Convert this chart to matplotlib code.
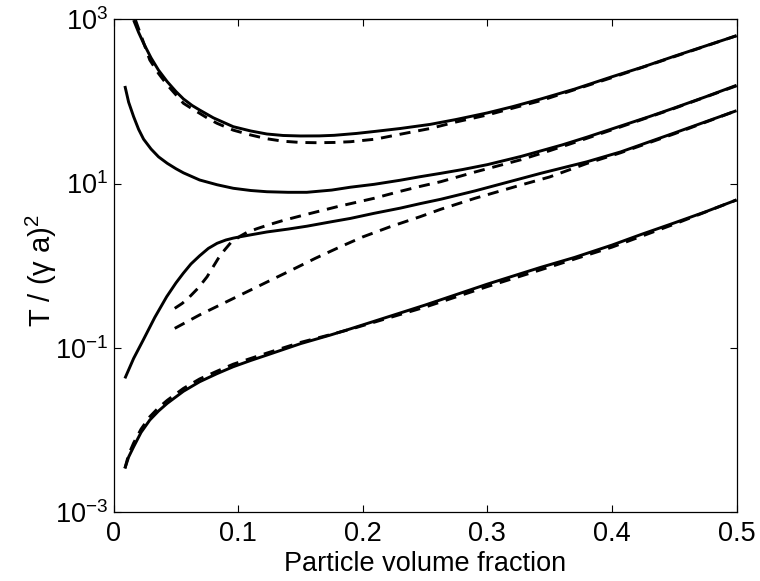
import numpy as np
import matplotlib
matplotlib.use("Agg")
import matplotlib.pyplot as plt

plt.rcParams['font.family'] = ['Liberation Sans', 'DejaVu Sans']
plt.rcParams['mathtext.fontset'] = 'custom'
plt.rcParams['mathtext.rm'] = 'Liberation Sans'
plt.rcParams['mathtext.it'] = 'Liberation Sans:italic'
plt.rcParams['mathtext.bf'] = 'Liberation Sans:bold'

# Values are given as log10(T / (gamma a)^2).
# Curve 1 (top) - solid / dashed
x1s = [0.016, 0.020, 0.024, 0.030, 0.036, 0.043, 0.050, 0.056, 0.063, 0.069, 0.080, 0.096, 0.110,
       0.123, 0.136, 0.150, 0.165, 0.177, 0.195, 0.210, 0.230, 0.254, 0.275, 0.300, 0.320, 0.343,
       0.370, 0.400, 0.425, 0.450, 0.475, 0.500]
l1s = [2.99, 2.84, 2.708, 2.53, 2.38, 2.24, 2.12, 2.03, 1.95, 1.895, 1.80, 1.692, 1.64,
       1.603, 1.585, 1.579, 1.58, 1.587, 1.61, 1.635, 1.67, 1.72, 1.78, 1.86, 1.935, 2.03,
       2.15, 2.30, 2.42, 2.55, 2.675, 2.80]
x1d = [0.0175, 0.022, 0.029, 0.036, 0.043, 0.050, 0.056, 0.063, 0.069, 0.076, 0.083, 0.096, 0.110,
       0.123, 0.136, 0.150, 0.163, 0.177, 0.190, 0.210, 0.230, 0.254, 0.275, 0.300, 0.343, 0.400,
       0.450, 0.500]
l1d = [2.99, 2.80, 2.504, 2.34, 2.20, 2.08, 1.977, 1.91, 1.855, 1.79, 1.733, 1.65, 1.591,
       1.545, 1.515, 1.50, 1.497, 1.50, 1.509, 1.54, 1.60, 1.67, 1.75, 1.835, 2.01, 2.29,
       2.545, 2.80]

# Curve 2 - solid / dashed
x2s = [0.009, 0.012, 0.016, 0.020, 0.024, 0.030, 0.036, 0.043, 0.050, 0.056, 0.069, 0.083, 0.096,
       0.110, 0.123, 0.140, 0.155, 0.175, 0.190, 0.209, 0.230, 0.246, 0.2625, 0.280, 0.300, 0.327,
       0.360, 0.380, 0.407, 0.430, 0.450, 0.475, 0.500]
l2s = [2.188, 1.99, 1.814, 1.66, 1.54, 1.42, 1.325, 1.246, 1.18, 1.13, 1.043, 0.985, 0.942,
       0.915, 0.900, 0.893, 0.893, 0.92, 0.955, 0.99, 1.04, 1.083, 1.124, 1.17, 1.23, 1.33,
       1.47, 1.565, 1.70, 1.815, 1.92, 2.055, 2.196]
x2d = [0.049, 0.055, 0.061, 0.068, 0.075, 0.080, 0.084, 0.089, 0.094, 0.1017, 0.107, 0.115, 0.125,
       0.136, 0.155, 0.180, 0.209, 0.230, 0.246, 0.2625, 0.290, 0.327, 0.350, 0.370, 0.407, 0.450,
       0.500]
l2d = [-0.52, -0.46, -0.379, -0.27, -0.135, -0.01, 0.089, 0.19, 0.28, 0.36, 0.405, 0.45, 0.50,
       0.55, 0.625, 0.72, 0.82, 0.905, 0.965, 1.022, 1.14, 1.29, 1.40, 1.50, 1.69, 1.915,
       2.19]

# Curve 3 - solid / dashed
x3s = [0.009, 0.016, 0.0237, 0.033, 0.0425, 0.050, 0.0558, 0.062, 0.069, 0.076, 0.083, 0.090, 0.096,
       0.1017, 0.110, 0.123, 0.140, 0.155, 0.175, 0.190, 0.209, 0.230, 0.246, 0.2625, 0.290, 0.327,
       0.343, 0.380, 0.407, 0.450, 0.500]
l3s = [-1.373, -1.13, -0.906, -0.63, -0.379, -0.21, -0.094, 0.02, 0.12, 0.21, 0.272, 0.312, 0.335,
       0.352, 0.375, 0.41, 0.445, 0.48, 0.535, 0.575, 0.637, 0.70, 0.755, 0.808, 0.91, 1.06,
       1.125, 1.265, 1.385, 1.615, 1.887]
x3d = [0.049, 0.069, 0.096, 0.123, 0.142, 0.162, 0.182, 0.200, 0.222, 0.246, 0.2625, 0.290, 0.327,
       0.350, 0.380, 0.407, 0.450, 0.500]
l3d = [-0.764, -0.60, -0.40, -0.20, -0.06, 0.09, 0.23, 0.35, 0.474, 0.596, 0.686, 0.82, 0.982,
       1.08, 1.245, 1.375, 1.605, 1.887]

# Curve 4 (bottom) - solid / dashed
x4s = [0.009, 0.012, 0.016, 0.022, 0.029, 0.036, 0.043, 0.056, 0.069, 0.083, 0.096, 0.110, 0.123,
       0.150, 0.174, 0.190, 0.220, 0.250, 0.300, 0.343, 0.370, 0.400, 0.4235, 0.450, 0.475, 0.500]
l4s = [-2.469, -2.33, -2.206, -2.03, -1.88, -1.77, -1.677, -1.53, -1.414, -1.315, -1.231, -1.155, -1.089,
       -0.95, -0.845, -0.77, -0.625, -0.48, -0.225, -0.02, 0.10, 0.25, 0.38, 0.52, 0.655, 0.80]
x4d = [0.009, 0.012, 0.016, 0.022, 0.029, 0.036, 0.043, 0.056, 0.069, 0.083, 0.096, 0.110, 0.123,
       0.150, 0.174, 0.190, 0.220, 0.250, 0.300, 0.343, 0.400, 0.450, 0.500]
l4d = [-2.469, -2.30, -2.16, -1.99, -1.84, -1.73, -1.64, -1.495, -1.38, -1.285, -1.20, -1.13, -1.065,
       -0.935, -0.84, -0.775, -0.64, -0.505, -0.255, -0.05, 0.225, 0.505, 0.80]

xticks = [0, 0.1, 0.2, 0.3, 0.4, 0.5]
xticklabels = ['0', '0.1', '0.2', '0.3', '0.4', '0.5']
yticks = [1e-3, 1e-1, 1e1, 1e3]

fig = plt.figure(figsize=(7.6, 5.81), dpi=100)
ax = fig.add_axes([0.1496, 0.1188, 0.8195, 0.848])

lw = 2.1
dash = (3.8, 2.7)
for xs, ls in [(x1s, l1s), (x2s, l2s), (x3s, l3s), (x4s, l4s)]:
    ax.plot(xs, 10 ** np.asarray(ls), color='black', lw=lw, solid_capstyle='butt',
            solid_joinstyle='round')
for xs, ls in [(x1d, l1d), (x2d, l2d), (x3d, l3d), (x4d, l4d)]:
    ax.plot(xs, 10 ** np.asarray(ls), color='black', lw=lw, linestyle=(0, dash),
            dash_capstyle='butt')

ax.set_yscale('log')
ax.set_xlim(0, 0.5)
ax.set_ylim(1e-3, 1e3)
ax.set_xticks(xticks)
ax.set_xticklabels(xticklabels)
ax.set_yticks(yticks)
ax.yaxis.set_minor_locator(matplotlib.ticker.NullLocator())
ax.tick_params(axis='both', which='major', direction='in', length=5, width=0.8,
               top=True, right=True, labelsize=19.5, pad=6.5)
ax.tick_params(axis='y', pad=4)
for s in ax.spines.values():
    s.set_linewidth(0.9)

ax.set_xlabel('Particle volume fraction', fontsize=19.5, labelpad=3)
ax.set_ylabel('T / (γ a)$^{2}$', fontsize=21, labelpad=8)
ax.yaxis.set_label_coords(-0.088, 0.49)

fig.savefig('out.png', dpi=100)
